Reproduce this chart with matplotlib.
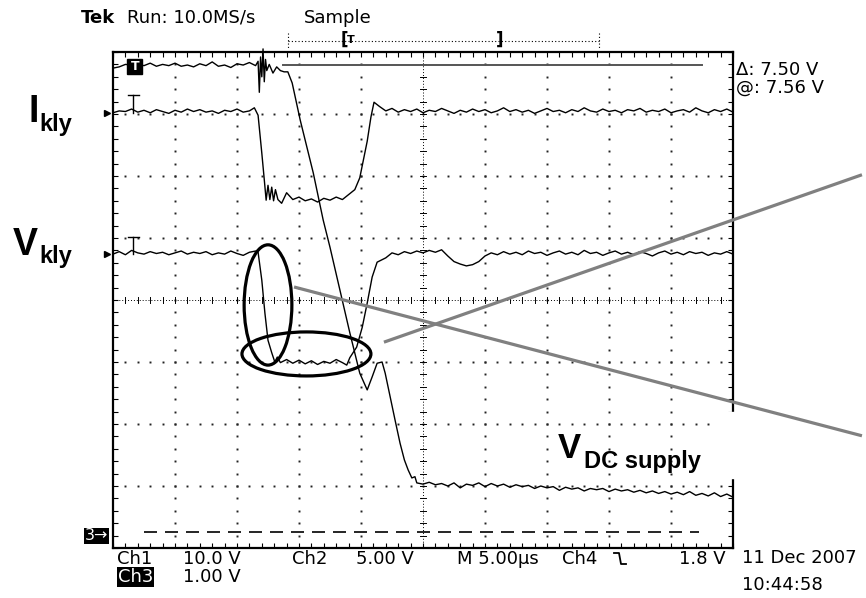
#!/usr/bin/env python3
"""
plot.py

Redraw of a Tektronix scope screenshot (klystron current/voltage and DC supply)
"""

import numpy as np
import matplotlib.pyplot as plt
from matplotlib.patches import Ellipse, Rectangle
from matplotlib.lines import Line2D

W, H = 866, 598

# screen is 10 x 8 divisions, all trace values in divisions (0 = left / bottom)
t_vdc = [0.00, 0.10, 0.20, 0.30, 0.40, 0.50, 0.60, 0.70, 0.80, 0.90,
         1.00, 1.10, 1.20, 1.30, 1.40, 1.50, 1.60, 1.70, 1.80, 1.90,
         2.00, 2.10, 2.20, 2.30, 2.34, 2.36, 2.38, 2.40, 2.42, 2.44,
         2.46, 2.48, 2.52, 2.58, 2.64, 2.70, 2.76, 2.82, 2.89, 3.02,
         3.23, 3.39, 3.50, 3.66, 3.82, 3.98, 4.10, 4.18, 4.26, 4.34,
         4.39, 4.47, 4.55, 4.63, 4.70, 4.76, 4.82, 4.87,
         4.90, 5.00, 5.10, 5.20, 5.30, 5.40, 5.50, 5.60, 5.70, 5.80,
         5.90, 6.00, 6.10, 6.20, 6.30, 6.40, 6.50, 6.60, 6.70, 6.80,
         6.90, 7.00, 7.10, 7.20, 7.30, 7.40, 7.50, 7.60, 7.70, 7.80,
         7.90, 8.00, 8.10, 8.20, 8.30, 8.40, 8.50, 8.60, 8.70, 8.80,
         8.90, 9.00, 9.10, 9.20, 9.30, 9.40, 9.50, 9.60, 9.70, 9.80,
         9.90, 10.00]
v_vdc = [7.74, 7.76, 7.80, 7.79, 7.80, 7.78, 7.82, 7.77, 7.80, 7.78,
         7.82, 7.77, 7.79, 7.76, 7.81, 7.78, 7.84, 7.77, 7.79, 7.75,
         7.81, 7.79, 7.83, 7.78, 7.85, 7.35, 7.92, 7.60, 8.05, 7.52,
         7.88, 7.70, 7.80, 7.66, 7.76, 7.70, 7.68, 7.68, 7.50, 6.90,
         6.05, 5.29, 4.85, 4.16, 3.47, 2.82, 2.55, 2.76, 2.98, 3.00,
         2.82, 2.44, 2.06, 1.69, 1.42, 1.26, 1.13, 1.15,
         1.05, 1.03, 1.06, 1.02, 1.04, 1.00, 1.05, 0.97, 1.03, 1.01,
         1.05, 0.99, 1.04, 1.00, 1.03, 0.98, 1.02, 0.99, 1.01, 0.96,
         1.00, 0.97, 0.99, 0.93, 0.98, 0.95, 0.97, 0.92, 0.96, 0.94,
         0.96, 0.91, 0.95, 0.92, 0.94, 0.90, 0.93, 0.89, 0.92, 0.88,
         0.91, 0.87, 0.90, 0.86, 0.91, 0.85, 0.88, 0.84, 0.89, 0.83,
         0.87, 0.82]

t_ikly = [0.00, 0.10, 0.20, 0.30, 0.40, 0.50, 0.60, 0.70, 0.80, 0.90,
          1.00, 1.10, 1.20, 1.30, 1.40, 1.50, 1.60, 1.70, 1.80, 1.90,
          2.00, 2.10, 2.20, 2.28, 2.34, 2.40, 2.44, 2.47, 2.50, 2.53,
          2.56, 2.59, 2.62, 2.66, 2.72, 2.80, 2.90, 3.00, 3.10, 3.20,
          3.30, 3.40, 3.50, 3.60, 3.70, 3.80, 3.90, 3.98, 4.10, 4.16,
          4.21, 4.30, 4.40, 4.50, 4.60, 4.70, 4.80, 4.90, 5.00, 5.10,
          5.20, 5.30, 5.40, 5.50, 5.60, 5.70, 5.80, 5.90, 6.00, 6.10,
          6.20, 6.30, 6.40, 6.50, 6.60, 6.70, 6.80, 6.90, 7.00, 7.10,
          7.20, 7.30, 7.40, 7.50, 7.60, 7.70, 7.80, 7.90, 8.00, 8.10,
          8.20, 8.30, 8.40, 8.50, 8.60, 8.70, 8.80, 8.90, 9.00, 9.10,
          9.20, 9.30, 9.40, 9.50, 9.60, 9.70, 9.80, 9.90, 10.00]
v_ikly = [7.02, 7.05, 7.04, 7.08, 7.03, 7.06, 7.02, 7.07, 7.04, 7.01,
          7.06, 7.03, 7.08, 7.04, 7.07, 7.03, 7.05, 7.01, 7.06, 7.04,
          7.08, 7.03, 7.05, 7.10, 6.98, 6.37, 5.94, 5.61, 5.85, 5.62,
          5.82, 5.60, 5.78, 5.62, 5.56, 5.73, 5.62, 5.66, 5.60, 5.63,
          5.58, 5.64, 5.61, 5.66, 5.62, 5.70, 5.78, 5.97, 6.56, 6.95,
          7.19, 7.12, 7.05, 7.09, 7.03, 7.07, 7.04, 7.08, 7.02, 7.06,
          7.04, 7.09, 7.05, 7.01, 7.06, 7.03, 7.08, 7.04, 7.07, 7.02,
          7.05, 7.10, 7.04, 7.07, 7.03, 7.06, 7.01, 7.05, 7.09, 7.04,
          7.06, 7.02, 7.07, 7.04, 7.10, 7.05, 7.03, 7.08, 7.04, 7.06,
          7.02, 7.07, 7.05, 7.09, 7.03, 7.06, 7.04, 7.08, 7.02, 7.05,
          7.07, 7.03, 7.10, 7.05, 7.02, 7.07, 7.04, 7.08, 7.03]

t_vkly = [0.00, 0.10, 0.20, 0.30, 0.40, 0.50, 0.60, 0.70, 0.80, 0.90,
          1.00, 1.10, 1.20, 1.30, 1.40, 1.50, 1.60, 1.70, 1.80, 1.90,
          2.00, 2.10, 2.20, 2.30, 2.34, 2.40, 2.45, 2.50, 2.56, 2.61,
          2.65, 2.70, 2.80, 2.90, 3.00, 3.10, 3.20, 3.30, 3.40, 3.50,
          3.60, 3.70, 3.77, 3.82, 3.93, 4.02, 4.10, 4.18, 4.26, 4.40,
          4.50, 4.60, 4.70, 4.80, 4.90, 5.00, 5.10, 5.20, 5.30, 5.40,
          5.50, 5.60, 5.70, 5.80, 5.90, 6.00, 6.10, 6.20, 6.30, 6.40,
          6.50, 6.60, 6.70, 6.80, 6.90, 7.00, 7.10, 7.20, 7.30, 7.40,
          7.50, 7.60, 7.70, 7.80, 7.90, 8.00, 8.10, 8.20, 8.30, 8.40,
          8.50, 8.60, 8.70, 8.80, 8.90, 9.00, 9.10, 9.20, 9.30, 9.40,
          9.50, 9.60, 9.70, 9.80, 9.90, 10.00]
v_vkly = [4.74, 4.78, 4.73, 4.80, 4.76, 4.74, 4.78, 4.75, 4.77, 4.73,
          4.76, 4.79, 4.74, 4.77, 4.75, 4.78, 4.73, 4.76, 4.74, 4.79,
          4.75, 4.72, 4.77, 4.79, 4.77, 4.32, 3.79, 3.35, 3.15, 3.00,
          3.08, 2.99, 3.04, 2.98, 3.03, 2.97, 3.02, 2.96, 3.01, 2.98,
          3.04, 2.99, 2.95, 3.07, 3.24, 3.56, 3.95, 4.37, 4.61, 4.68,
          4.76, 4.73, 4.78, 4.75, 4.79, 4.76, 4.80, 4.77, 4.81, 4.71,
          4.62, 4.58, 4.55, 4.57, 4.62, 4.71, 4.76, 4.73, 4.78, 4.74,
          4.77, 4.73, 4.79, 4.75, 4.77, 4.72, 4.76, 4.79, 4.74, 4.77,
          4.73, 4.80, 4.75, 4.77, 4.72, 4.76, 4.79, 4.74, 4.77, 4.73,
          4.78, 4.75, 4.71, 4.76, 4.79, 4.74, 4.77, 4.73, 4.78, 4.75,
          4.77, 4.72, 4.76, 4.74, 4.78, 4.74]

# cursors (divisions)
cursor_level = 7.79
cursor_span = (2.74, 9.50)
ch3_ref_level = 0.26
ch3_span = (0.50, 9.45)

# annotation marks: ellipses (centre, width, height) and pointer lines
ellipses = [((2.50, 3.92), 0.77, 1.94), ((3.12, 3.13), 2.08, 0.71)]
pointer_lines = [((2.92, 4.21), (12.08, 1.81)), ((4.37, 3.32), (12.08, 6.02))]


def fig_xy(x, y):
    """pixel position -> figure fraction"""
    return x / W, 1 - y / H


def put(x, y, s, **kw):
    kw.setdefault('fontsize', 13)
    kw.setdefault('va', 'center')
    kw.setdefault('ha', 'left')
    kw.setdefault('family', 'DejaVu Sans')
    fig.text(*fig_xy(x, y), s, **kw)


fig = plt.figure(figsize=(W / 100, H / 100), dpi=100)
ax = fig.add_axes([113 / W, 50 / H, 620 / W, 496 / H])
ax.set_xlim(0, 10)
ax.set_ylim(0, 8)
for s in ax.spines.values():
    s.set_linewidth(1.6)
ax.set_xticks(np.arange(0, 10.01, 0.2))
ax.set_yticks(np.arange(0, 8.01, 0.2))
ax.tick_params(direction='in', length=3.5, width=0.8, top=True, right=True,
               labelbottom=False, labelleft=False)

# graticule dots
dot = dict(ls='none', marker='s', ms=1.4, color='#222222', mew=0)
for gx in [1, 2, 3, 4, 6, 7, 8, 9]:
    ys = np.arange(0.2, 8.0, 0.2)
    ax.plot(np.full_like(ys, gx), ys, **dot)
for gy in [1, 2, 3, 5, 6, 7]:
    xs = np.arange(0.2, 10.0, 0.2)
    ax.plot(xs, np.full_like(xs, gy), **dot)
# centre cross with small ticks
ax.plot([5, 5], [0, 8], color='k', lw=0.7, dashes=(1, 2))
ax.plot([0, 10], [4, 4], color='k', lw=0.7, dashes=(1, 2))
for p in np.arange(0.2, 10.0, 0.2):
    ax.plot([p, p], [3.95, 4.05], color='k', lw=0.7)
for p in np.arange(0.2, 8.0, 0.2):
    ax.plot([4.95, 5.05], [p, p], color='k', lw=0.7)

# traces
ax.plot(t_vdc, v_vdc, color='k', lw=1.0, clip_on=False)
ax.plot(t_ikly, v_ikly, color='k', lw=1.0)
ax.plot(t_vkly, v_vkly, color='k', lw=1.0)

# cursors
ax.plot(cursor_span, [cursor_level] * 2, color='#555555', lw=1.4)
ax.plot(ch3_span, [ch3_ref_level] * 2, color='k', lw=1.2, dashes=(7.8, 4.8))

# channel markers
ax.add_patch(Rectangle((0.23, v_vdc[0] - 0.10), 0.24, 0.24, color='k', zorder=4))
ax.text(0.35, v_vdc[0] + 0.02, 'T', color='white', fontsize=9, fontweight='bold',
        ha='center', va='center', zorder=5)
for base in (v_ikly[0], v_vkly[0]):
    ax.plot([0.24, 0.42], [base + 0.28] * 2, color='k', lw=1.0)
    ax.plot([0.33, 0.33], [base + 0.28, base], color='k', lw=1.0)
    ax.plot(-0.1, base, marker='>', ms=4.5, color='k', clip_on=False)

# annotation ellipses and pointer lines
for c, w, h in ellipses:
    ax.add_patch(Ellipse(c, w, h, fill=False, ec='k', lw=2.3, clip_on=False, zorder=6))
for a, b in pointer_lines:
    ax.plot([a[0], b[0]], [a[1], b[1]], color='#808080', lw=2.3, clip_on=False,
            solid_capstyle='butt', zorder=6)

# white box behind the V_DC label cuts the frame
fig.add_artist(Rectangle(fig_xy(714, 478), 30 / W, 66 / H, transform=fig.transFigure,
                         color='white', zorder=3))

# acquisition bar at the top
fig.add_artist(Line2D(*zip(fig_xy(288, 41), fig_xy(599, 41)), color='k', lw=0.8,
                      dashes=(1, 2)))
for bx in (288, 599):
    fig.add_artist(Line2D(*zip(fig_xy(bx, 33), fig_xy(bx, 49)), color='k', lw=0.8,
                          dashes=(1, 2)))
put(341, 40, '[', fontsize=12, fontweight='bold')
put(347, 40, 'T', fontsize=8, fontweight='bold')
put(496, 40, ']', fontsize=12, fontweight='bold')

# scope texts
put(81, 18, 'Tek', fontweight='bold')
put(127, 18, 'Run: 10.0MS/s')
put(304, 18, 'Sample')
put(736, 70, '\u0394: 7.50 V')
put(736, 88, '@: 7.56 V')

put(117, 559, 'Ch1')
put(183, 559, '10.0 V')
put(292, 559, 'Ch2')
put(356, 559, '5.00 V')
put(457, 559, 'M 5.00\u00b5s')
put(562, 559, 'Ch4')
put(679, 559, '1.8 V')
put(742, 558, '11 Dec 2007')
put(118, 577, 'Ch3', color='white',
    bbox=dict(facecolor='black', edgecolor='none', pad=0.6))
put(183, 577, '1.00 V')
put(742, 585, '10:44:58')
put(85, 536, '3\u2192', fontsize=11.5, color='white',
    bbox=dict(facecolor='black', edgecolor='none', pad=0.6))
# falling edge trigger symbol
fig.add_artist(Line2D(*zip(fig_xy(614, 553), fig_xy(619, 553), fig_xy(621, 564),
                           fig_xy(626, 564)), color='k', lw=1.3))

# signal labels
lab = dict(family='Liberation Sans', fontweight='bold', va='baseline')
put(28, 122, 'I', fontsize=27, **lab)
put(39, 131, 'kly', fontsize=17, **lab)
put(13, 255, 'V', fontsize=27, **lab)
put(39, 263, 'kly', fontsize=17, **lab)
put(558, 458, 'V', fontsize=25, **lab)
put(584, 468, 'DC supply', fontsize=17, **lab)

fig.savefig('out.png', dpi=100)
